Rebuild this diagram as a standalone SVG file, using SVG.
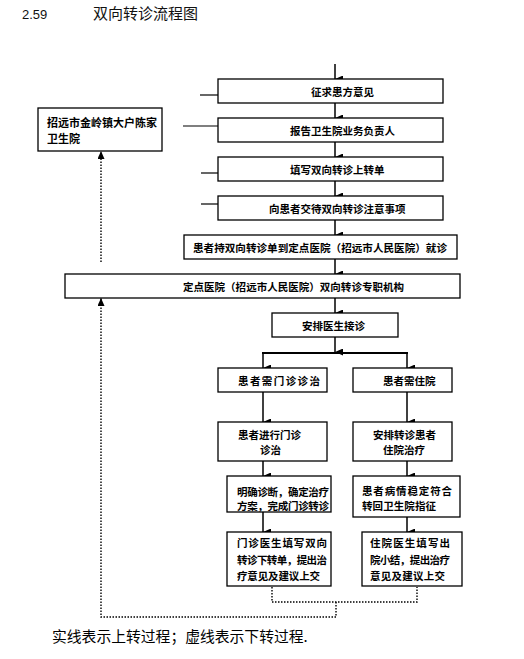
<svg xmlns="http://www.w3.org/2000/svg" width="524" height="659" viewBox="0 0 524 659">
<style>
.bx{fill:#fff;stroke:#000;stroke-width:1.3}
.t{font-family:"Noto Sans CJK SC","Liberation Sans",sans-serif;font-size:10.5px;font-weight:bold;fill:#000;dominant-baseline:central}
.ln{stroke:#000;stroke-width:1.5;fill:none}
.dt{stroke:#000;stroke-width:1.4;fill:none;stroke-dasharray:1.5 1.5}
</style>
<defs>
<marker id="ah" markerUnits="userSpaceOnUse" markerWidth="7" markerHeight="8" viewBox="0 0 7 8" refX="3.5" refY="8" orient="auto-start-reverse">
<path d="M0,0 L7,0 L3.5,8 Z" fill="#000"/>
</marker>
<marker id="au" markerUnits="userSpaceOnUse" markerWidth="7" markerHeight="8" viewBox="0 0 7 8" refX="3.5" refY="0" orient="0">
<path d="M0,8 L7,8 L3.5,0 Z" fill="#000"/>
</marker>
</defs>
<rect width="524" height="659" fill="#fff"/>
<g id="title">
<text x="22" y="19" font-family="Liberation Sans,sans-serif" font-size="13" fill="#111">2.59</text>
<text x="93" y="19" font-family="Noto Sans CJK SC,sans-serif" font-size="15" fill="#111">双向转诊流程图</text>
</g>
<g id="connectors">
<line class="ln" x1="335" y1="64" x2="335" y2="79" marker-end="url(#ah)"/>
<line class="ln" x1="335" y1="103" x2="335" y2="118" marker-end="url(#ah)"/>
<line class="ln" x1="335" y1="142" x2="335" y2="157" marker-end="url(#ah)"/>
<line class="ln" x1="335" y1="181" x2="335" y2="196" marker-end="url(#ah)"/>
<line class="ln" x1="335" y1="220" x2="335" y2="235" marker-end="url(#ah)"/>
<line class="ln" x1="335" y1="259" x2="335" y2="274" marker-end="url(#ah)"/>
<line class="ln" x1="335" y1="298" x2="335" y2="313" marker-end="url(#ah)"/>
<line class="ln" x1="335" y1="337" x2="335" y2="352" marker-end="url(#ah)"/>
<line x1="262" y1="353" x2="408" y2="353" stroke="#000" stroke-width="2.2"/>
<line class="ln" x1="263" y1="353" x2="263" y2="368" marker-end="url(#ah)"/>
<line class="ln" x1="407" y1="353" x2="407" y2="368" marker-end="url(#ah)"/>
<line class="ln" x1="263" y1="392" x2="263" y2="422" marker-end="url(#ah)"/>
<line class="ln" x1="407" y1="392" x2="407" y2="422" marker-end="url(#ah)"/>
<line class="ln" x1="263" y1="461" x2="263" y2="476" marker-end="url(#ah)"/>
<line class="ln" x1="407" y1="461" x2="407" y2="476" marker-end="url(#ah)"/>
<line class="ln" x1="263" y1="512" x2="263" y2="532" marker-end="url(#ah)"/>
<line class="ln" x1="407" y1="517" x2="407" y2="532" marker-end="url(#ah)"/>
<line stroke="#000" stroke-width="1.2" x1="200" y1="95" x2="218" y2="95"/>
<line stroke="#000" stroke-width="1.2" x1="183" y1="126" x2="218" y2="126"/>
<line stroke="#000" stroke-width="1.2" x1="201" y1="173" x2="218" y2="173"/>
<line stroke="#000" stroke-width="1.2" x1="201" y1="204" x2="218" y2="204"/>
<polyline class="dt" points="272,587 272,602 417,602 417,587"/>
<polyline class="dt" points="336,602 336,617 101,617 101,298" marker-end="url(#au)"/>
<line class="dt" x1="101" y1="262" x2="101" y2="151" marker-end="url(#au)"/>
</g>
<g id="n-left">
<rect class="bx" x="38" y="108" width="124" height="43"/>
<text class="t" x="47" y="122" style="font-size:11px">招远市金岭镇大户陈家</text>
<text class="t" x="47" y="138" style="font-size:11px">卫生院</text>
</g>
<g id="n1"><rect class="bx" x="218" y="79" width="225" height="24"/><text class="t" x="311" y="91">征求患方意见</text></g>
<g id="n2"><rect class="bx" x="218" y="118" width="225" height="24"/><text class="t" x="290" y="130">报告卫生院业务负责人</text></g>
<g id="n3"><rect class="bx" x="218" y="157" width="225" height="24"/><text class="t" x="290" y="169">填写双向转诊上转单</text></g>
<g id="n4"><rect class="bx" x="218" y="196" width="225" height="24"/><text class="t" x="269" y="208">向患者交待双向转诊注意事项</text></g>
<g id="n5"><rect class="bx" x="184" y="235" width="273" height="24"/><text class="t" x="193" y="247" textLength="254" lengthAdjust="spacingAndGlyphs">患者持双向转诊单到定点医院（招远市人民医院）就诊</text></g>
<g id="n6"><rect class="bx" x="65" y="274" width="395" height="24"/><text class="t" x="183" y="286" textLength="221" lengthAdjust="spacingAndGlyphs">定点医院（招远市人民医院）双向转诊专职机构</text></g>
<g id="n7"><rect class="bx" x="272" y="313" width="126" height="24"/><text class="t" x="302" y="325">安排医生接诊</text></g>
<g id="n8l"><rect class="bx" x="218" y="368" width="109" height="24"/><text class="t" x="238" y="380" textLength="82">患者需门诊诊治</text></g>
<g id="n8r"><rect class="bx" x="353" y="368" width="99" height="24"/><text class="t" x="383" y="380">患者需住院</text></g>
<g id="n9l"><rect class="bx" x="218" y="422" width="109" height="39"/><text class="t" x="238" y="434">患者进行门诊</text><text class="t" x="260" y="449">诊治</text></g>
<g id="n9r"><rect class="bx" x="353" y="422" width="99" height="39"/><text class="t" x="373" y="434">安排转诊患者</text><text class="t" x="383" y="449">住院治疗</text></g>
<g id="n10l"><rect class="bx" x="227" y="476" width="104" height="36"/><text class="t" x="237" y="491" textLength="92">明确诊断，确定治疗</text><text class="t" x="237" y="505" textLength="92">方案，完成门诊转诊</text></g>
<g id="n10r"><rect class="bx" x="353" y="476" width="107" height="41"/><text class="t" x="362" y="490" textLength="90">患者病情稳定符合</text><text class="t" x="362" y="505" textLength="74">转回卫生院指征</text></g>
<g id="n11l"><rect class="bx" x="227" y="532" width="104" height="54"/><text class="t" x="237" y="542" textLength="90">门诊医生填写双向</text><text class="t" x="237" y="559" textLength="90">转诊下转单，提出治</text><text class="t" x="237" y="575" textLength="83">疗意见及建议上交</text></g>
<g id="n11r"><rect class="bx" x="362" y="532" width="100" height="54"/><text class="t" x="370" y="542" textLength="80">住院医生填写出</text><text class="t" x="370" y="559" textLength="80">院小结，提出治疗</text><text class="t" x="370" y="575" textLength="75">意见及建议上交</text></g>
<g id="legend"><text x="52" y="642" font-family="Noto Sans CJK SC,sans-serif" font-size="14.8" fill="#000">实线表示上转过程；虚线表示下转过程.</text></g>
</svg>
